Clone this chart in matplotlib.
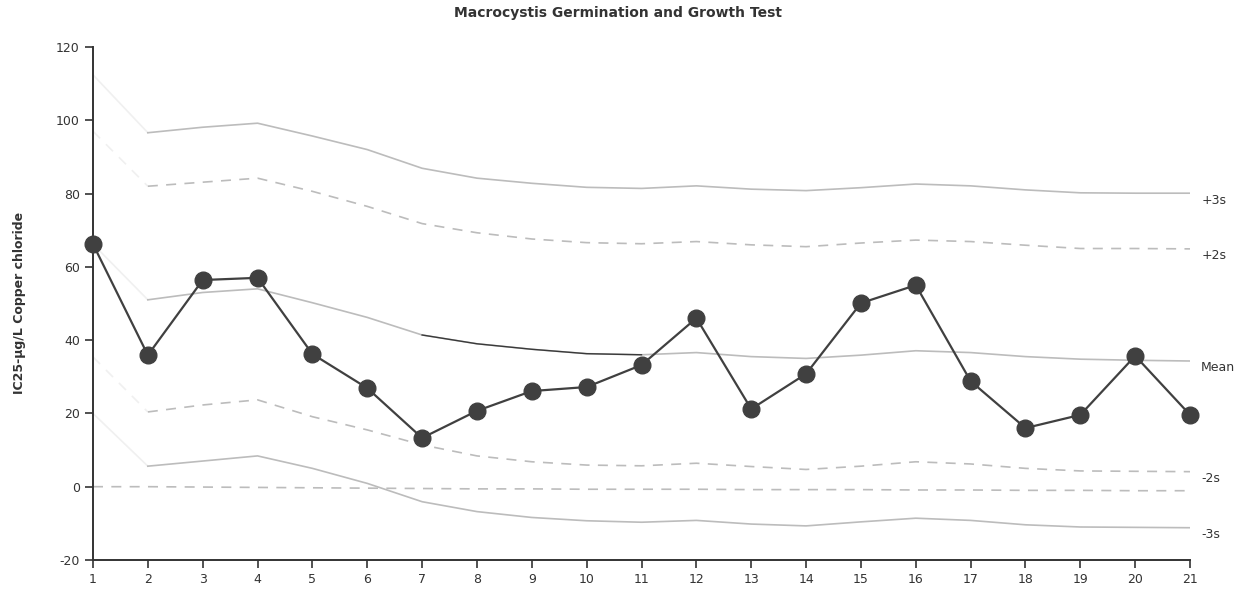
import numpy as np
import matplotlib
matplotlib.use("Agg")
import matplotlib.pyplot as plt

plt.rcParams.update({'font.family': 'DejaVu Sans', 'font.size': 9,
                     'axes.unicode_minus': False})

# test number
tests = np.arange(1, 22)

# IC25 results (ug/L copper chloride)
ic25 = [66.2, 35.9, 56.4, 57.0, 36.2, 26.9, 13.3, 20.7, 26.1, 27.2, 33.2,
        46.0, 21.2, 30.8, 50.1, 55.0, 28.8, 16.0, 19.6, 35.7, 19.6]

# running mean and control limits
mean = [66.2, 51.0, 53.0, 54.0, 50.2, 46.2, 41.4, 39.0, 37.5, 36.3, 36.0,
        36.6, 35.5, 35.0, 35.9, 37.1, 36.6, 35.5, 34.8, 34.5, 34.3]
plus3s = [112.4, 96.6, 98.1, 99.2, 95.7, 92.0, 86.9, 84.2, 82.8, 81.7, 81.4,
          82.1, 81.2, 80.8, 81.6, 82.6, 82.1, 81.0, 80.2, 80.1, 80.1]
plus2s = [97.0, 82.0, 83.1, 84.2, 80.6, 76.5, 71.8, 69.3, 67.6, 66.6, 66.3,
          66.9, 66.0, 65.5, 66.5, 67.3, 66.9, 65.9, 65.0, 65.0, 64.9]
minus2s = [35.4, 20.4, 22.3, 23.7, 19.1, 15.5, 11.4, 8.4, 6.8, 5.9, 5.7,
           6.4, 5.5, 4.7, 5.6, 6.8, 6.2, 5.0, 4.3, 4.2, 4.1]
minus3s = [20.0, 5.6, 7.0, 8.4, 5.0, 0.9, -4.1, -6.8, -8.4, -9.3, -9.7,
           -9.2, -10.2, -10.7, -9.6, -8.6, -9.2, -10.4, -11.0, -11.1, -11.2]
zero_ref = [0.0, 0.0, -0.1, -0.2, -0.3, -0.4, -0.5, -0.6, -0.6, -0.7, -0.7,
            -0.7, -0.8, -0.8, -0.8, -0.9, -0.9, -1.0, -1.0, -1.1, -1.1]

limit_labels = ["+3s", "+2s", "Mean", "-2s", "-3s"]

fig = plt.figure(figsize=(12.35, 5.91), dpi=100)
ax = fig.add_axes([0.0753, 0.0525, 0.8883, 0.868])

gray = '#bcbcbc'
faint = '#f0f0f0'
dash = (0, (6, 5))

lines = [(plus3s, '-'), (plus2s, dash), (mean, '-'), (minus2s, dash), (minus3s, '-')]
for vals, ls in lines:
    ax.plot(tests[:2], vals[:2], color=faint, lw=1.2, ls=ls, zorder=1)
    ax.plot(tests[1:], vals[1:], color=gray, lw=1.2, ls=ls, zorder=1)
# darker stretch of the mean line as in the original print
ax.plot(tests[6:11], mean[6:11], color='#3a3a3a', lw=1.0, zorder=1)
ax.plot(tests, zero_ref, color=gray, lw=1.2, ls=dash, zorder=1)

ax.plot(tests, ic25, color='#404040', lw=1.6, marker='o', ms=12,
        markeredgecolor='#404040', zorder=3, clip_on=False)

for vals, lab in zip([plus3s, plus2s, mean, minus2s, minus3s], limit_labels):
    ax.annotate(lab, xy=(tests[-1], vals[-1]), xytext=(8, -5),
                textcoords='offset points', va='center', ha='left',
                fontsize=9, color='#333333', annotation_clip=False)

ax.set_xlim(1, 21)
ax.set_ylim(-20, 120)
ax.set_xticks(tests)
ax.set_yticks(np.arange(-20, 121, 20))
for s in ['top', 'right']:
    ax.spines[s].set_visible(False)
for s in ['left', 'bottom']:
    ax.spines[s].set_color('#333333')
    ax.spines[s].set_linewidth(1.4)
ax.tick_params(direction='out', length=6, width=1.2, colors='#333333', labelsize=9)

fig.text(0.016, 0.487, 'IC25-µg/L Copper chloride', rotation=90, ha='center',
         va='center', fontweight='bold', fontsize=9, color='#333333')
fig.text(0.5, 0.978, 'Macrocystis Germination and Growth Test', ha='center',
         va='center', fontweight='bold', fontsize=10, color='#333333')

fig.savefig('out.png', dpi=100)
